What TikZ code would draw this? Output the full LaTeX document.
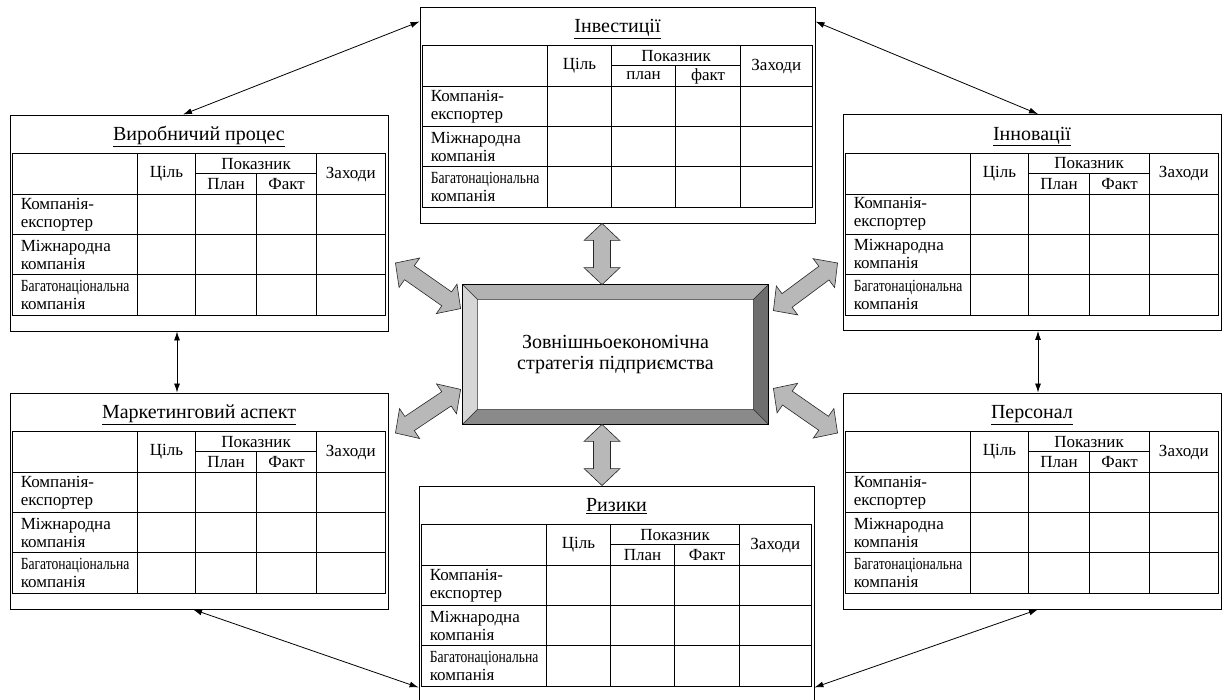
\documentclass[tikz,border=0pt]{standalone}
\usepackage{fontspec}
\setmainfont{Liberation Serif}
\usepackage{graphicx}
\usetikzlibrary{calc,positioning,arrows.meta}
\definecolor{arrowgray}{RGB}{184,184,184}
\definecolor{bevellight}{RGB}{214,214,214}
\definecolor{bevelmid}{RGB}{178,178,178}
\definecolor{beveldark}{RGB}{110,110,110}
\definecolor{bevelshade}{RGB}{138,138,138}

% wide grey double arrow between two named points
\newcommand{\bigarrow}[2]{%
  \filldraw[bigarr] (#1)
    -- ($(#1)!17pt!(#2)!18pt!90:(#2)$)
    -- ($(#1)!17pt!(#2)!8.5pt!90:(#2)$)
    -- ($(#2)!17pt!(#1)!8.5pt!-90:(#1)$)
    -- ($(#2)!17pt!(#1)!18pt!-90:(#1)$)
    -- (#2)
    -- ($(#2)!17pt!(#1)!18pt!90:(#1)$)
    -- ($(#2)!17pt!(#1)!8.5pt!90:(#1)$)
    -- ($(#1)!17pt!(#2)!8.5pt!-90:(#2)$)
    -- ($(#1)!17pt!(#2)!18pt!-90:(#2)$)
    -- cycle;}

\begin{document}
\begin{tikzpicture}[
    x=1pt, y=-1pt,
    panel/.style={draw, line width=0.9pt, inner sep=0pt, minimum height=216pt},
    sidepanel/.style={panel, minimum width=378pt},
    midpanel/.style={panel, minimum width=395pt},
    grid/.style={line width=0.7pt},
    paneltitle/.style={anchor=base, inner sep=0pt, font=\fontsize{20}{22}\selectfont},
    cell/.style={inner sep=0pt, font=\fontsize{17}{18}\selectfont},
    rowlabel/.style={cell, anchor=west, align=left},
    link/.style={{Latex[length=9pt,width=6pt]}-{Latex[length=9pt,width=6pt]}, line width=0.8pt},
    bigarr/.style={fill=arrowgray, draw=black!85, line width=0.6pt},
    bevel/.style={draw=black!80, line width=0.5pt},
    strategy/.style={draw, line width=0.8pt, minimum width=305pt, minimum height=139pt,
      inner sep=0pt, align=center, font=\fontsize{20}{21}\selectfont}
]
    \useasboundingbox (0,0) rectangle (1222,700);

    % Panels
    \node[sidepanel] (prod) at (199,223) {};
    \node[sidepanel] (mark) at (199,501) {};
    \node[sidepanel] (innov) at (1032,222.5) {};
    \node[sidepanel] (staff) at (1032,501) {};
    \node[midpanel] (inv) at (617.5,115) {};
    \node[midpanel] (risk) at (616.5,594) {};

    % Tables inside the panels
    \foreach \pname/\ptitle/\bw/\ca/\cb/\cc/\cd/\pl/\fa in {
        prod/Виробничий процес/378/128/186/247/307/План/Факт,
        mark/Маркетинговий аспект/378/128/186/247/307/План/Факт,
        innov/Інновації/378/128/186/247/307/План/Факт,
        staff/Персонал/378/128/186/247/307/План/Факт,
        inv/Інвестиції/395/128/192/256/321/план/факт,
        risk/Ризики/395/128/192/256/321/План/Факт} {
        \node[paneltitle] (\pname-title) at ($(\pname.north)+(0,26)$) {\underline{\ptitle}};
        \begin{scope}[shift={(\pname.north west)}]
            \draw[grid] (3,39) rectangle (\bw-2.5,201);
            \draw[grid] (3,80) -- (\bw-2.5,80) (3,120) -- (\bw-2.5,120) (3,160) -- (\bw-2.5,160)
                (\cb,59) -- (\cd,59) (\ca,39) -- (\ca,201) (\cb,39) -- (\cb,201)
                (\cc,59) -- (\cc,201) (\cd,39) -- (\cd,201);
            \node[cell] (\pname-goal) at ({(\ca+\cb)/2},59.5) {Ціль};
            \node[cell] (\pname-ind) at ({(\cb+\cd)/2},49) {Показник};
            \node[cell] (\pname-plan) at ({(\cb+\cc)/2},69.5) {\pl};
            \node[cell] (\pname-fact) at ({(\cc+\cd)/2},69.5) {\fa};
            \node[cell] (\pname-act) at ({(\cd+\bw-2.5)/2},59.5) {Заходи};
            \node[rowlabel] (\pname-r1) at (11,100) {Компанія-\\експортер};
            \node[rowlabel] (\pname-r2) at (11,140) {Міжнародна\\компанія};
            \node[rowlabel] (\pname-r3) at (11,180.5) {\scalebox{0.8}[1]{Багатонаціональна}\\компанія};
        \end{scope}
    }

    % Strategy block with bevelled frame
    \node[strategy] (strat) at (615.5,354.5) {Зовнішньоекономічна\\стратегія підприємства};
    \coordinate (s-nw) at ($(strat.north west)+(15,15)$);
    \coordinate (s-ne) at ($(strat.north east)+(-15,15)$);
    \coordinate (s-se) at ($(strat.south east)+(-15,-15)$);
    \coordinate (s-sw) at ($(strat.south west)+(15,-15)$);
    \filldraw[bevel, fill=bevelmid] (strat.north west) -- (strat.north east) -- (s-ne) -- (s-nw) -- cycle;
    \filldraw[bevel, fill=bevellight] (strat.north west) -- (s-nw) -- (s-sw) -- (strat.south west) -- cycle;
    \filldraw[bevel, fill=beveldark] (strat.north east) -- (strat.south east) -- (s-se) -- (s-ne) -- cycle;
    \filldraw[bevel, fill=bevelshade] (strat.south west) -- (s-sw) -- (s-se) -- (strat.south east) -- cycle;
    \draw[line width=0.8pt] (strat.north west) rectangle (strat.south east);

    % Wide arrows to the strategy block
    \coordinate (t-a) at ($(inv.south)+(-15.5,0)$);
    \coordinate (t-b) at ($(strat.north)+(-13.5,0)$);
    \coordinate (b-a) at ($(strat.south)+(-13.5,0)$);
    \coordinate (b-b) at ($(risk.north)+(-14.5,0)$);
    \coordinate (ul-a) at ($(prod.east)+(7,40)$);
    \coordinate (ul-b) at ($(strat.north west)+(-2,24)$);
    \coordinate (ll-a) at ($(mark.east)+(7,-68)$);
    \coordinate (ll-b) at ($(strat.south west)+(-2,-35)$);
    \coordinate (ur-a) at ($(strat.north east)+(5,26)$);
    \coordinate (ur-b) at ($(innov.west)+(-5,40.5)$);
    \coordinate (lr-a) at ($(strat.south east)+(5,-36)$);
    \coordinate (lr-b) at ($(staff.west)+(-5,-68)$);
    \bigarrow{t-a}{t-b}
    \bigarrow{b-a}{b-b}
    \bigarrow{ul-a}{ul-b}
    \bigarrow{ll-a}{ll-b}
    \bigarrow{ur-a}{ur-b}
    \bigarrow{lr-a}{lr-b}

    % Thin links between the panels
    \draw[link] ($(prod.north)+(-16,0)$) -- ($(inv.north west)+(0,15)$);
    \draw[link] ($(inv.north east)+(0,15)$) -- ($(innov.north)+(6,0)$);
    \draw[link] ($(prod.south)+(-22,0)$) -- ($(mark.north)+(-22,0)$);
    \draw[link] ($(innov.south)+(6,0)$) -- ($(staff.north)+(6,0)$);
    \draw[link] ($(mark.south)+(-6,0)$) -- ($(risk.south west)+(0,-15)$);
    \draw[link] ($(risk.south east)+(0,-15)$) -- ($(staff.south)+(6,0)$);
\end{tikzpicture}
\end{document}
